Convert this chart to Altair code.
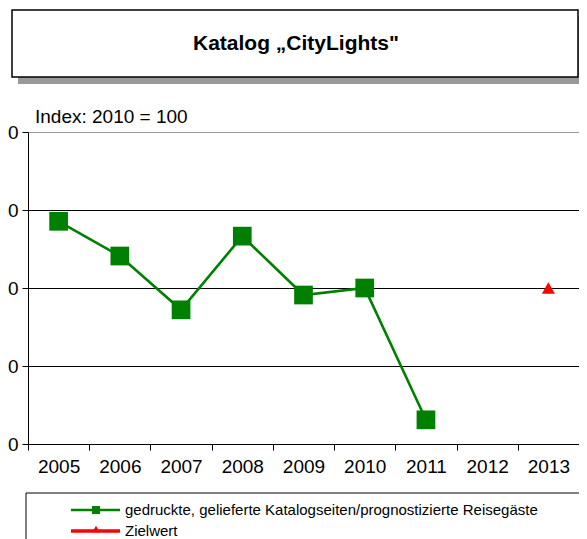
import altair as alt
import pandas as pd

# ---- data ----
years = ["2005", "2006", "2007", "2008", "2009", "2010", "2011", "2012", "2013"]
series_years = ["2005", "2006", "2007", "2008", "2009", "2010", "2011"]
series_values = [117.1, 108.2, 94.4, 113.3, 98.2, 100.0, 66.2]
target_year = ["2013"]
target_value = [100.0]
y_ticks = [60, 80, 100, 120, 140]

title_text = "Katalog \u201eCityLights\""
index_text = "Index:  2010 = 100"
legend_labels = ["gedruckte, gelieferte Katalogseiten/prognostizierte Reisegäste", "Zielwert"]

FONT = "Liberation Sans"
GREEN = "#008000"
RED = "#ff0000"

W, H = 551, 312

df = pd.DataFrame({"year": series_years, "value": series_values})
df_t = pd.DataFrame({"year": target_year, "value": target_value})
one = pd.DataFrame({"a": [0]})

x_enc = alt.X(
    "year:O",
    bandPosition=0.5,
    scale=alt.Scale(type="band", domain=years, paddingInner=0, paddingOuter=0),
    axis=alt.Axis(
        title=None, labelAngle=0, tickBand="extent", grid=False,
        labelFontSize=19, labelFont=FONT, labelColor="black", labelPadding=7,
        tickSize=6, tickColor="black", domainColor="black", labelFlush=False,
    ),
)
y_enc = alt.Y(
    "value:Q",
    scale=alt.Scale(domain=[60, 140], nice=False, zero=False),
    axis=alt.Axis(
        title=None, values=y_ticks, labelFontSize=19, labelFont=FONT, labelColor="black",
        labelPadding=4, tickSize=6, tickColor="black", domainColor="black",
        gridColor={"condition": {"test": "datum.value === 140", "value": "#9a9a9a"}, "value": "black"},
        gridOpacity=1, labelFlush=False,
    ),
)

line = alt.Chart(df).mark_line(color=GREEN, strokeWidth=2.6).encode(x=x_enc, y=y_enc)
squares = alt.Chart(df).mark_point(shape="square", filled=True, color=GREEN, opacity=1, size=350).encode(x=x_enc, y=y_enc)
target = alt.Chart(df_t).mark_point(shape="triangle-up", filled=True, color=RED, opacity=1, size=170).encode(x=x_enc, y=y_enc)

# title box with shadow
shadow = alt.Chart(one).mark_rect(color="#999999").encode(
    x=alt.value(-10), x2=alt.value(560), y=alt.value(-116), y2=alt.value(-48))
tbox = alt.Chart(one).mark_rect(fill="white", stroke="black", strokeWidth=1.5).encode(
    x=alt.value(-16), x2=alt.value(550), y=alt.value(-122), y2=alt.value(-55))
ttext = alt.Chart(one).mark_text(font=FONT, fontSize=21, fontWeight="bold", color="black",
                                 align="center", baseline="middle").encode(
    x=alt.value(268), y=alt.value(-88), text=alt.value(title_text))

itext = alt.Chart(one).mark_text(font=FONT, fontSize=19, color="black",
                                 align="left", baseline="middle").encode(
    x=alt.value(7), y=alt.value(-15), text=alt.value(index_text))

# legend
lbox = alt.Chart(one).mark_rect(fill="white", stroke="black", strokeWidth=1).encode(
    x=alt.value(-2), x2=alt.value(620), y=alt.value(361), y2=alt.value(440))
l1 = alt.Chart(one).mark_rule(color=GREEN, strokeWidth=2.6).encode(
    x=alt.value(43), x2=alt.value(92), y=alt.value(378))
l1p = alt.Chart(one).mark_point(shape="square", filled=True, color=GREEN, opacity=1, size=64).encode(
    x=alt.value(68), y=alt.value(378))
l2 = alt.Chart(one).mark_rule(color=RED, strokeWidth=3.5).encode(
    x=alt.value(43), x2=alt.value(92), y=alt.value(399))
l2p = alt.Chart(one).mark_point(shape="triangle-up", filled=True, color=RED, opacity=1, size=60).encode(
    x=alt.value(68), y=alt.value(397))
lt1 = alt.Chart(one).mark_text(font=FONT, fontSize=15, color="black", align="left", baseline="middle").encode(
    x=alt.value(97), y=alt.value(378), text=alt.value(legend_labels[0]))
lt2 = alt.Chart(one).mark_text(font=FONT, fontSize=15, color="black", align="left", baseline="middle").encode(
    x=alt.value(97), y=alt.value(399), text=alt.value(legend_labels[1]))

chart = alt.layer(
    shadow, tbox, ttext, itext, line, squares, target, lbox, l1, l1p, l2, l2p, lt1, lt2
).properties(
    width=W, height=H,
    autosize=alt.AutoSizeParams(type="none"),
    padding={"left": 20, "top": 124, "right": 0, "bottom": 95},
).configure_view(stroke="#9a9a9a", strokeWidth=1).configure(background="white")

chart.save("out.html", embed_options={"renderer": "svg", "actions": False})
